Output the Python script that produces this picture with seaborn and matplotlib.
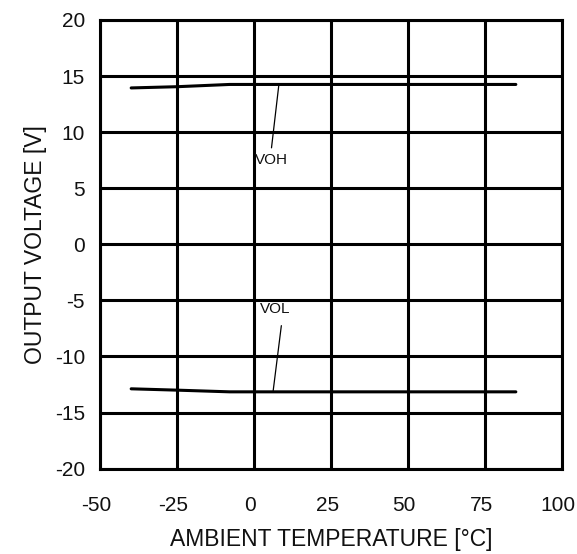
import matplotlib
matplotlib.use("Agg")
import matplotlib.pyplot as plt
import matplotlib.transforms as mtransforms
import seaborn as sns
import pandas as pd

temp = [-40, -25, -8, 25, 50, 85]
voh = [13.94, 14.05, 14.25, 14.25, 14.25, 14.25]
vol = [-12.88, -13.0, -13.15, -13.15, -13.15, -13.15]

x_ticks = [-50, -25, 0, 25, 50, 75, 100]
y_ticks = [-20, -15, -10, -5, 0, 5, 10, 15, 20]

df = pd.DataFrame({"temp": temp + temp, "v": voh + vol,
                   "s": ["VOH"] * len(temp) + ["VOL"] * len(temp)})

sns.set_theme(style="white")
plt.rcParams['font.family'] = ['Liberation Sans', 'DejaVu Sans']
plt.rcParams['axes.unicode_minus'] = False

fig = plt.figure(figsize=(5.77, 5.54), dpi=100)
ax = fig.add_axes([0.174, 0.154, 0.800, 0.810])
sns.lineplot(data=df, x="temp", y="v", units="s", estimator=None, color="black",
             linewidth=2.2, ax=ax, legend=False)

ax.set_xlim(-50, 100)
ax.set_ylim(-20, 20)
ax.set_xticks(x_ticks)
ax.set_yticks(y_ticks)
ax.grid(True, color="black", linewidth=2.2)
for sp in ax.spines.values():
    sp.set_color("black")
    sp.set_linewidth(2.2)
ax.tick_params(length=0, labelsize=15, colors="#111111")
ax.tick_params(axis="x", pad=20)
ax.tick_params(axis="y", pad=11)
offset = mtransforms.ScaledTranslation(-4 / 100, 0, fig.dpi_scale_trans)
for lab in ax.get_xticklabels():
    lab.set_transform(lab.get_transform() + offset)
ax.set_xlabel("AMBIENT TEMPERATURE [°C]", fontsize=16.5, color="#111111", labelpad=9)
ax.set_ylabel("OUTPUT VOLTAGE [V]", fontsize=16.5, color="#111111", labelpad=6)

ax.plot([8.0, 5.6], [14.25, 8.6], color="black", linewidth=0.9)
ax.text(0.2, 7.5, "VOH", fontsize=11, va="center", ha="left", color="#111111")
ax.plot([8.8, 6.1], [-7.25, -13.15], color="black", linewidth=0.9)
ax.text(1.8, -5.75, "VOL", fontsize=11, va="center", ha="left", color="#111111")

fig.savefig("out.png", dpi=100)
